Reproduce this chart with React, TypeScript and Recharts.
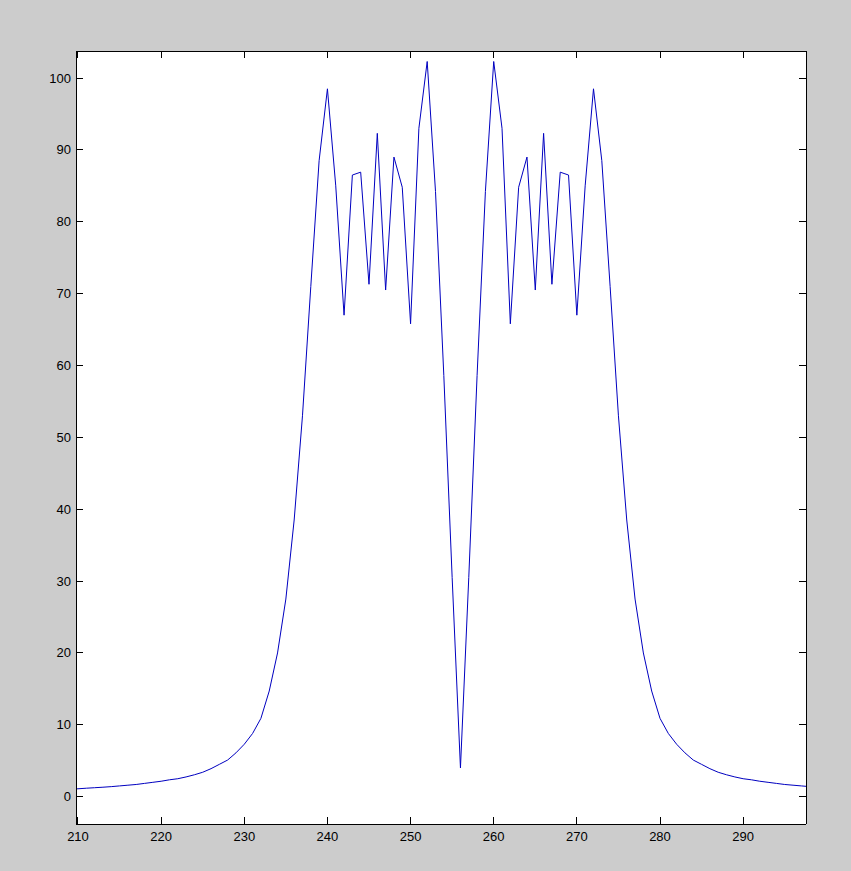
import React from "react";
import { LineChart, Line, XAxis, YAxis } from "recharts";

// sample positions and magnitudes
const xValues = [
  209, 210, 211, 212, 213, 214, 215, 216, 217, 218, 219, 220, 221, 222, 223, 224,
  225, 226, 227, 228, 229, 230, 231, 232, 233, 234, 235, 236, 237, 238, 239, 240,
  241, 242, 243, 244, 245, 246, 247, 248, 249, 250, 251, 252, 253, 254, 255, 256,
  257, 258, 259, 260, 261, 262, 263, 264, 265, 266, 267, 268, 269, 270, 271, 272,
  273, 274, 275, 276, 277, 278, 279, 280, 281, 282, 283, 284, 285, 286, 287, 288,
  289, 290, 291, 292, 293, 294, 295, 296, 297, 298,
];

const yValues = [
  1.05, 1.1, 1.18, 1.25, 1.32, 1.4, 1.5, 1.6, 1.7, 1.85, 2.0, 2.15, 2.35, 2.5, 2.75, 3.05,
  3.4, 3.9, 4.5, 5.1, 6.1, 7.3, 8.8, 10.9, 14.7, 20.0, 27.5, 38.5, 53.0, 71.0, 88.5, 98.5,
  85.0, 67.0, 86.5, 86.9, 71.3, 92.3, 70.5, 89.0, 84.8, 65.8, 93.0, 102.3, 84.2, 58.6, 30.5, 4.0,
  30.5, 58.6, 84.2, 102.3, 93.0, 65.8, 84.8, 89.0, 70.5, 92.3, 71.3, 86.9, 86.5, 67.0, 85.0, 98.5,
  88.5, 71.0, 53.0, 38.5, 27.5, 20.0, 14.7, 10.9, 8.8, 7.3, 6.1, 5.1, 4.5, 3.9, 3.4, 3.05,
  2.75, 2.5, 2.35, 2.15, 2.0, 1.85, 1.7, 1.6, 1.5, 1.4,
];

const xTicks = [210, 220, 230, 240, 250, 260, 270, 280, 290];
const yTicks = [0, 10, 20, 30, 40, 50, 60, 70, 80, 90, 100];

const xDomain = [209.76, 297.56];
const yDomain = [-3.8, 103.76];

const data = xValues.map((x, i) => ({ x, y: yValues[i] }));

const FONT = '"Liberation Sans", Arial, Helvetica, sans-serif';
const TICK_LEN = 7;

function BottomTick({ x, y, payload }: any) {
  return (
    <g>
      <line x1={x} x2={x} y1={y} y2={y - TICK_LEN} stroke="#000" shapeRendering="crispEdges" />
      <text x={x} y={y + 17} textAnchor="middle" fontSize={13} fontFamily={FONT} fill="#000">
        {payload.value}
      </text>
    </g>
  );
}

function TopTick({ x, y }: any) {
  return <line x1={x} x2={x} y1={y} y2={y + TICK_LEN} stroke="#000" shapeRendering="crispEdges" />;
}

function LeftTick({ x, y, payload }: any) {
  return (
    <g>
      <line x1={x} x2={x + TICK_LEN} y1={y} y2={y} stroke="#000" shapeRendering="crispEdges" />
      <text x={x - 5} y={y + 4.5} textAnchor="end" fontSize={13} fontFamily={FONT} fill="#000">
        {payload.value}
      </text>
    </g>
  );
}

function RightTick({ x, y }: any) {
  return <line x1={x} x2={x - TICK_LEN} y1={y} y2={y} stroke="#000" shapeRendering="crispEdges" />;
}

const axisLine = { stroke: "#000", shapeRendering: "crispEdges" };

export default function App() {
  return (
    <div
      style={{
        position: "fixed",
        left: 0,
        top: 0,
        width: 851,
        height: 871,
        background: "#cccccc",
      }}
    >
      <svg
        width={851}
        height={871}
        style={{ position: "absolute", left: 0, top: 0 }}
      >
        <rect x={76} y={51} width={730} height={773} fill="#ffffff" />
      </svg>
      <div style={{ position: "absolute", left: 0, top: 0 }}>
        <LineChart
          width={851}
          height={871}
          data={data}
          margin={{ top: 41, right: 35, bottom: 27, left: 36 }}
        >
          <XAxis
            xAxisId="b"
            dataKey="x"
            type="number"
            domain={xDomain}
            allowDataOverflow
            ticks={xTicks}
            orientation="bottom"
            height={20}
            tickSize={0}
            tickMargin={0}
            tickLine={false}
            axisLine={axisLine}
            tick={<BottomTick />}
            interval={0}
          />
          <XAxis
            xAxisId="t"
            dataKey="x"
            type="number"
            domain={xDomain}
            allowDataOverflow
            ticks={xTicks}
            orientation="top"
            height={10}
            tickSize={0}
            tickMargin={0}
            tickLine={false}
            axisLine={axisLine}
            tick={<TopTick />}
            interval={0}
          />
          <YAxis
            yAxisId="l"
            type="number"
            domain={yDomain}
            allowDataOverflow
            ticks={yTicks}
            orientation="left"
            width={40}
            tickSize={0}
            tickMargin={0}
            tickLine={false}
            axisLine={axisLine}
            tick={<LeftTick />}
            interval={0}
          />
          <YAxis
            yAxisId="r"
            type="number"
            domain={yDomain}
            allowDataOverflow
            ticks={yTicks}
            orientation="right"
            width={10}
            tickSize={0}
            tickMargin={0}
            tickLine={false}
            axisLine={axisLine}
            tick={<RightTick />}
            interval={0}
          />
          <Line
            xAxisId="b"
            yAxisId="l"
            dataKey="y"
            type="linear"
            stroke="#0000c0"
            strokeWidth={1}
            dot={false}
            activeDot={false}
            isAnimationActive={false}
          />
          <Line
            xAxisId="t"
            yAxisId="r"
            dataKey="y"
            type="linear"
            stroke="none"
            dot={false}
            activeDot={false}
            isAnimationActive={false}
          />
        </LineChart>
      </div>
    </div>
  );
}
